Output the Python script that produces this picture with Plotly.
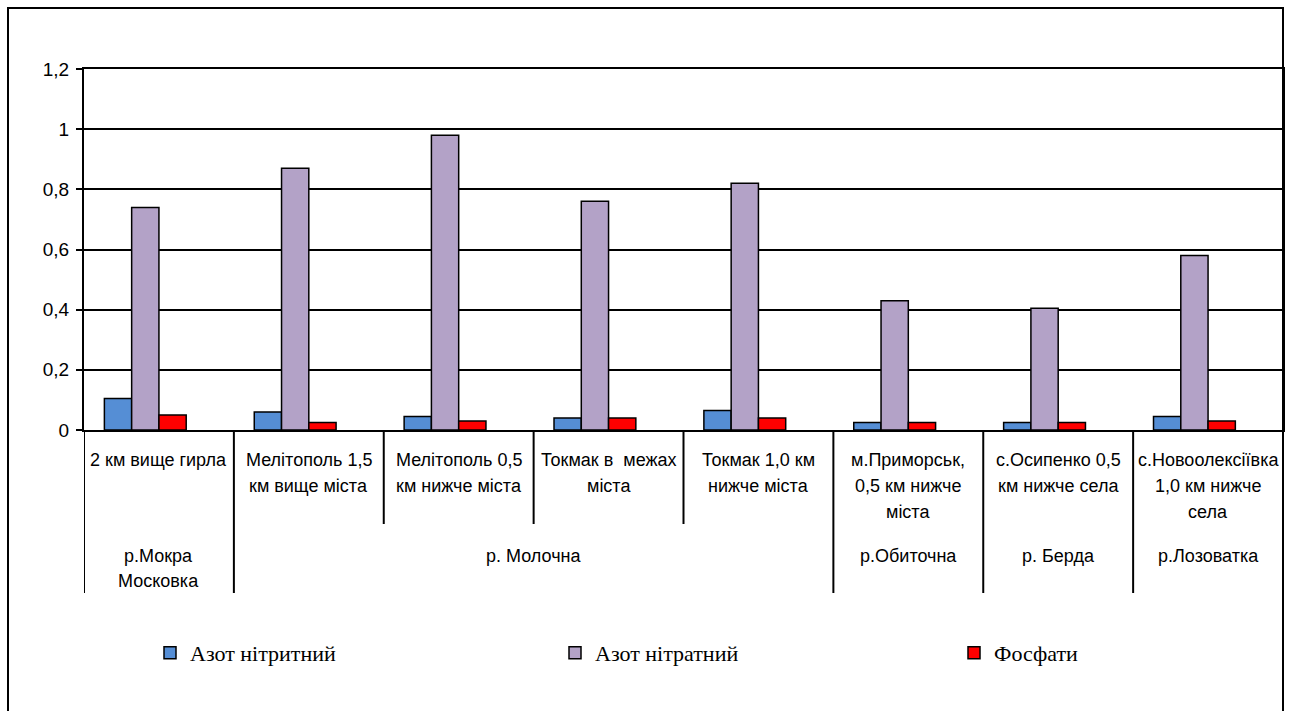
import plotly.graph_objects as go

# ---------------- data ----------------
sites = [
    "2 км вище гирла",
    "Мелітополь 1,5<br>км вище міста",
    "Мелітополь 0,5<br>км нижче міста",
    "Токмак в  межах<br>міста",
    "Токмак 1,0 км<br>нижче міста",
    "м.Приморськ,<br>0,5 км нижче<br>міста",
    "с.Осипенко 0,5<br>км нижче села",
    "с.Новоолексіївка<br>1,0 км нижче<br>села",
]
rivers = ["р.Мокра<br>Московка", "р. Молочна", "р.Обиточна", "р. Берда", "р.Лозоватка"]
river_span = [1, 4, 1, 1, 1]

series_names = ["Азот нітритний", "Азот нітратний", "Фосфати"]
nitrite = [0.105, 0.06, 0.045, 0.04, 0.065, 0.025, 0.025, 0.045]
nitrate = [0.74, 0.87, 0.98, 0.76, 0.82, 0.43, 0.405, 0.58]
phosphate = [0.05, 0.025, 0.03, 0.04, 0.04, 0.025, 0.025, 0.03]
series_values = [nitrite, nitrate, phosphate]
colors = ["#558ED5", "#B3A2C7", "#FF0000"]
yticks = [0, 0.2, 0.4, 0.6, 0.8, 1.0, 1.2]

# ---------------- geometry ----------------
W, H = 1298, 711
L, R, T, B = 84, 1283, 69, 430  # plot area in pixels


def py(p):  # pixel y -> paper y
    return (B - p) / (B - T)


def px(p):  # pixel x -> paper x
    return (p - L) / (R - L)


sans = "Liberation Sans, Arial, sans-serif"
serif = "Liberation Serif, Times New Roman, serif"
legend_ids = ["legend", "legend2", "legend3"]
legend_left = [150, 555, 954]

fig = go.Figure()
bw = 0.182
for k, (name, vals, col) in enumerate(zip(series_names, series_values, colors)):
    fig.add_trace(go.Bar(
        x=sites, y=vals, name=name, legend=legend_ids[k],
        width=bw, offset=(k - 2) * bw,
        marker=dict(color=col, line=dict(color="black", width=1.5)),
    ))

shapes = []
# outer chart border
shapes.append(dict(type="rect", xref="paper", yref="paper",
                   x0=px(8), x1=px(1283), y0=py(730), y1=py(8),
                   line=dict(color="black", width=2), layer="above"))
# category table separators
group_bounds = []
c = 0
for s in river_span:
    c += s
    group_bounds.append(c)
for i in range(1, len(sites)):
    is_group = i in group_bounds
    shapes.append(dict(type="line", xref="x", yref="paper",
                       x0=i - 0.5, x1=i - 0.5, y0=0, y1=py(593 if is_group else 524),
                       line=dict(color="black", width=2)))
shapes.append(dict(type="line", xref="x", yref="paper",
                   x0=-0.5, x1=-0.5, y0=0, y1=py(593),
                   line=dict(color="black", width=2)))

annotations = []
for i, lab in enumerate(sites):
    for k, line in enumerate(lab.split("<br>")):
        annotations.append(dict(x=i, y=py(460 + 26 * k), xref="x", yref="paper",
                                text=line, showarrow=False, yanchor="middle",
                                font=dict(family=sans, size=18, color="black")))
start = 0
for riv, s in zip(rivers, river_span):
    xc = start + (s - 1) / 2
    for k, line in enumerate(riv.split("<br>")):
        annotations.append(dict(x=xc, y=py(556 + 25 * k), xref="x", yref="paper",
                                text=line, showarrow=False, yanchor="middle",
                                font=dict(family=sans, size=18, color="black")))
    start += s

legend_common = dict(orientation="h", yanchor="middle", xanchor="left",
                     font=dict(family=serif, size=22, color="black"),
                     bgcolor="rgba(0,0,0,0)")

fig.update_layout(
    width=W, height=H, autosize=False,
    margin=dict(l=L, r=W - R, t=T, b=H - B, pad=0),
    paper_bgcolor="white", plot_bgcolor="white",
    separators=", ",
    barmode="overlay",
    showlegend=True,
    legend=dict(x=px(legend_left[0]), y=py(653), **legend_common),
    legend2=dict(x=px(legend_left[1]), y=py(653), **legend_common),
    legend3=dict(x=px(legend_left[2]), y=py(653), **legend_common),
    xaxis=dict(type="category", showticklabels=False, ticks="", showgrid=False,
               showline=True, mirror=True, linecolor="black", linewidth=2,
               range=[-0.5, len(sites) - 0.5], fixedrange=True),
    yaxis=dict(range=[0, 1.2], tickvals=yticks,
               showgrid=True, gridcolor="black", gridwidth=1.5,
               zeroline=False, showline=True, mirror=True, linecolor="black", linewidth=2,
               ticks="outside", ticklen=6, tickcolor="black", tickwidth=1.5,
               ticklabelstandoff=3,
               tickfont=dict(family=sans, size=19, color="black"), fixedrange=True),
    shapes=shapes, annotations=annotations,
)

fig.write_html("out.html", config={"displayModeBar": False},
               post_script="document.body.style.margin='0';")
